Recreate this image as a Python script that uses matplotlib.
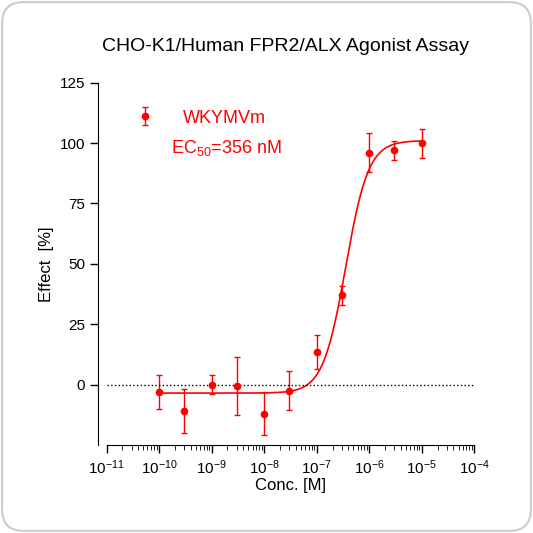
import numpy as np
from matplotlib import pyplot as plt
from matplotlib.patches import FancyBboxPatch
from matplotlib.ticker import LogLocator, NullFormatter

conc = [1e-10, 3e-10, 1e-9, 3e-9, 1e-8, 3e-8, 1e-7, 3e-7, 1e-6, 3e-6, 1e-5]
effect = [-3, -11, 0, -0.5, -12, -2.5, 13.5, 37, 96, 97, 100]
err = [7, 9, 4, 12, 9, 8, 7, 4, 8, 4, 6]

bottom, top, ec50, hill = -3.5, 101.0, 356e-9, 2.0

red = "#ff0000"
plt.rcParams["font.family"] = ["Liberation Sans", "DejaVu Sans"]
plt.rcParams["mathtext.fontset"] = "custom"
plt.rcParams["mathtext.rm"] = "Liberation Sans"

fig = plt.figure(figsize=(5.33, 5.33), dpi=100)
fig.patch.set_facecolor("white")
border = FancyBboxPatch((0.004, 0.004), 0.992, 0.992, boxstyle="round,pad=0,rounding_size=0.04",
                        transform=fig.transFigure, facecolor="none", edgecolor="#cccccc", lw=1.5, zorder=-1)
fig.patches.append(border)
ax = fig.add_axes([0.2, 0.165, 0.69, 0.68])
ax.patch.set_alpha(0)

xx = np.logspace(-10, -5, 400)
yy = bottom + (top - bottom) / (1 + (ec50 / xx) ** hill)
ax.plot(xx, yy, color=red, lw=1.2)
ax.errorbar(conc, effect, yerr=err, fmt="o", color=red, ms=4.5, capsize=2.5, elinewidth=1, capthick=1,
            label="WKYMVm")
ax.axhline(0, color="black", ls=":", lw=1)

ax.set_xscale("log")
ax.set_xlim(1e-11, 1e-4)
ax.set_ylim(-25, 125)
ax.set_yticks([0, 25, 50, 75, 100, 125])
ax.xaxis.set_major_locator(LogLocator(base=10, numticks=20))
ax.xaxis.set_minor_locator(LogLocator(base=10, subs=np.arange(2, 10), numticks=20))
ax.xaxis.set_minor_formatter(NullFormatter())
for s in ["top", "right"]:
    ax.spines[s].set_visible(False)
ax.spines["left"].set_position(("outward", 6))
ax.tick_params(labelsize=11, width=1, length=6)
ax.tick_params(which="minor", length=3.5)

ax.set_xlabel("Conc. [M]", fontsize=12, labelpad=1)
ax.set_ylabel("Effect  [%]", fontsize=12)
fig.text(0.535, 0.905, "CHO-K1/Human FPR2/ALX Agonist Assay", ha="center", fontsize=14)

ax.legend(loc="upper left", bbox_to_anchor=(0.0, 0.97), frameon=False, fontsize=13,
          labelcolor=red, handlelength=2.5)
ax.text(0.175, 0.82, "EC$_{50}$=356 nM", transform=ax.transAxes, color=red, fontsize=13, va="center")

fig.savefig("out.png", dpi=100)
